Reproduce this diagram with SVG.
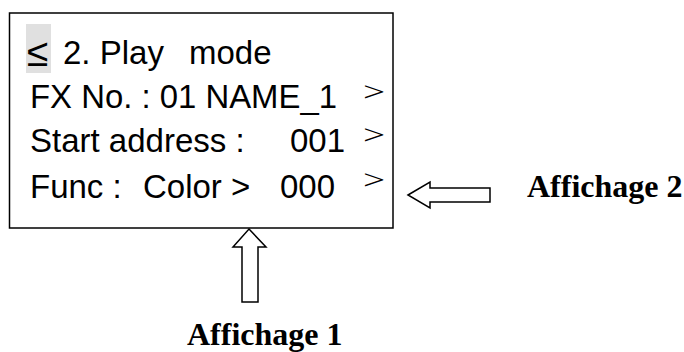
<svg xmlns="http://www.w3.org/2000/svg" width="684" height="352" viewBox="0 0 684 352">
<style>
.t{font-family:"Liberation Sans",Arial,sans-serif;font-size:33px;fill:#000}
.g{font-family:"Liberation Serif","Times New Roman",serif;font-size:28px;fill:#000}
.lbl{font-family:"Liberation Serif","Times New Roman",serif;font-size:32px;font-weight:bold;fill:#000}
.arr{fill:#fff;stroke:#000;stroke-width:1.5}
</style>
<rect width="684" height="352" fill="#fff"/>
<g id="display">
<rect x="9.5" y="13" width="383.5" height="215" fill="#fff" stroke="#000" stroke-width="1.5"/>
<rect x="26" y="24" width="25" height="49" fill="#e0e0e0"/>
<text class="t" x="27" y="66" style="font-size:39px">≤</text>
<text class="t" x="63" y="64">2. Play</text>
<text class="t" x="189" y="64">mode</text>
<text class="t" x="30" y="108" textLength="307" lengthAdjust="spacingAndGlyphs">FX No. : 01 NAME_1</text>
<text class="g" transform="translate(363,101) scale(1.4,1)">&gt;</text>
<text class="t" x="30" y="152">Start address :</text>
<text class="t" x="290" y="152">001</text>
<text class="g" transform="translate(363,144) scale(1.4,1)">&gt;</text>
<text class="t" x="30" y="198">Func :</text>
<text class="t" x="143" y="198">Color &gt;</text>
<text class="t" x="280" y="198">000</text>
<text class="g" transform="translate(363,189) scale(1.4,1)">&gt;</text>
</g>
<g id="connectors">
<polygon class="arr" points="408,195 430,182 430,188 490,188 490,202 430,202 430,208"/>
<polygon class="arr" points="249,229 266,247 258,247 258,302 242,302 242,247 233,247"/>
</g>
<g id="label2"><text class="lbl" x="527" y="197">Affichage 2</text></g>
<g id="label1"><text class="lbl" x="187" y="345">Affichage 1</text></g>
</svg>
